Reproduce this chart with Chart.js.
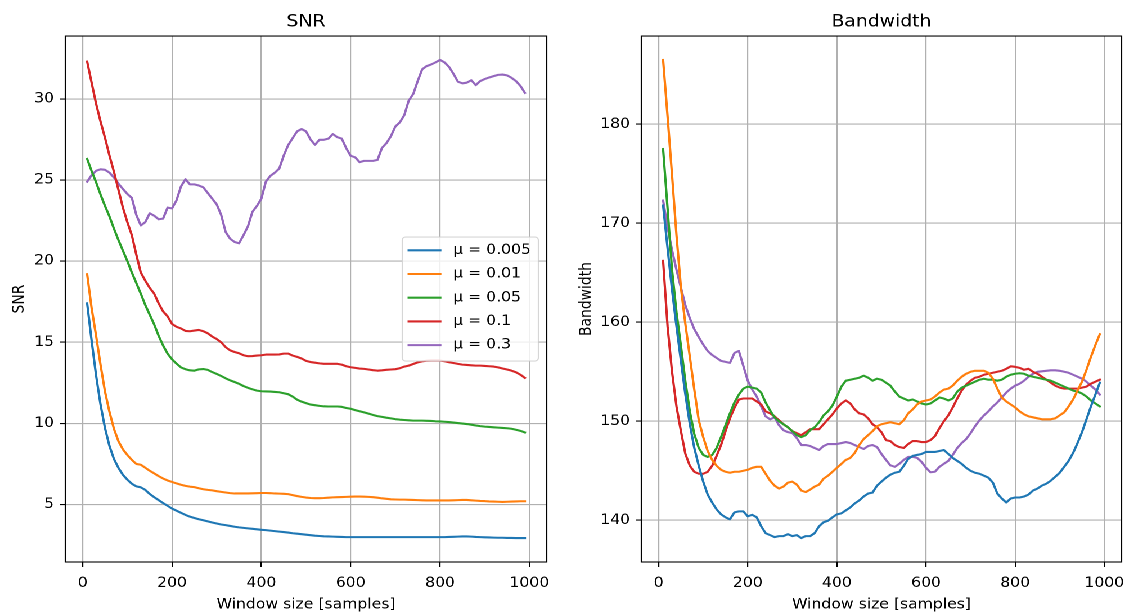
<!DOCTYPE html>
<html>
<head>
<meta charset="utf-8">
<script src="https://cdn.jsdelivr.net/npm/chart.js@4/dist/chart.umd.min.js"></script>
<style>
  html, body { margin: 0; padding: 0; background: #fff; overflow: hidden; }
  /* the figure is laid out 1000px wide and widened to the full 1125px window */
  #fig { position: absolute; left: 0; top: 0; width: 1000px; height: 614px;
         transform: scaleX(1.125); transform-origin: 0 0; }
  #fig canvas { position: absolute; top: 0; }
</style>
</head>
<body>
<div id="fig">
  <canvas id="snrChart" width="500" height="614" style="left:0"></canvas>
  <canvas id="bwChart" width="500" height="614" style="left:500px"></canvas>
</div>
<script>
// Window sizes (samples) at which SNR and bandwidth were evaluated
const windowSizes = [
  10, 20, 30, 40, 50, 60, 70, 80, 90, 100,
  110, 120, 130, 140, 150, 160, 170, 180, 190, 200,
  210, 220, 230, 240, 250, 260, 270, 280, 290, 300,
  310, 320, 330, 340, 350, 360, 370, 380, 390, 400,
  410, 420, 430, 440, 450, 460, 470, 480, 490, 500,
  510, 520, 530, 540, 550, 560, 570, 580, 590, 600,
  610, 620, 630, 640, 650, 660, 670, 680, 690, 700,
  710, 720, 730, 740, 750, 760, 770, 780, 790, 800,
  810, 820, 830, 840, 850, 860, 870, 880, 890, 900,
  910, 920, 930, 940, 950, 960, 970, 980, 990
];

const muLabels = ['μ = 0.005', 'μ = 0.01', 'μ = 0.05', 'μ = 0.1', 'μ = 0.3'];
const seriesColors = ['#1f77b4', '#ff7f0e', '#2ca02c', '#d62728', '#9467bd'];

// SNR per step size
const snrMu0005 = [
  17.4, 15.1, 12.95, 11.15, 9.7, 8.6, 7.8, 7.26, 6.83, 6.53,
  6.28, 6.12, 6.06, 5.9, 5.65, 5.45, 5.27, 5.09, 4.92, 4.75,
  4.62, 4.49, 4.36, 4.25, 4.17, 4.09, 4.03, 3.96, 3.89, 3.83,
  3.77, 3.73, 3.68, 3.63, 3.59, 3.56, 3.53, 3.5, 3.47, 3.44,
  3.42, 3.39, 3.36, 3.33, 3.3, 3.27, 3.23, 3.2, 3.17, 3.14,
  3.11, 3.08, 3.06, 3.04, 3.03, 3.02, 3.01, 3.0, 2.99, 2.99,
  2.99, 2.99, 2.99, 2.99, 2.99, 2.99, 2.99, 2.99, 2.99, 2.99,
  2.99, 2.99, 2.99, 2.99, 2.99, 2.99, 2.99, 2.99, 2.99, 2.99,
  2.99, 3.0, 3.01, 3.02, 3.03, 3.03, 3.02, 3.0, 2.99, 2.98,
  2.97, 2.96, 2.95, 2.95, 2.94, 2.94, 2.93, 2.93, 2.93
];
const snrMu001 = [
  19.2, 17.1, 15.4, 13.6, 11.95, 10.7, 9.66, 8.9, 8.4, 8.05,
  7.75, 7.5, 7.45, 7.27, 7.08, 6.92, 6.75, 6.6, 6.48, 6.39,
  6.3, 6.22, 6.15, 6.1, 6.07, 6.0, 5.94, 5.9, 5.87, 5.82,
  5.78, 5.74, 5.7, 5.68, 5.68, 5.68, 5.68, 5.69, 5.7, 5.71,
  5.71, 5.7, 5.68, 5.67, 5.66, 5.64, 5.58, 5.52, 5.47, 5.43,
  5.4, 5.39, 5.39, 5.4, 5.42, 5.44, 5.45, 5.46, 5.47, 5.48,
  5.49, 5.49, 5.48, 5.47, 5.45, 5.42, 5.38, 5.35, 5.32, 5.31,
  5.3, 5.3, 5.29, 5.28, 5.27, 5.26, 5.25, 5.25, 5.25, 5.25,
  5.25, 5.25, 5.26, 5.27, 5.28, 5.28, 5.26, 5.24, 5.22, 5.21,
  5.19, 5.18, 5.17, 5.16, 5.17, 5.18, 5.19, 5.2, 5.2
];
const snrMu005 = [
  26.3, 25.55, 24.86, 24.1, 23.4, 22.75, 22.0, 21.3, 20.65, 20.0,
  19.3, 18.65, 18.0, 17.3, 16.7, 16.1, 15.4, 14.8, 14.3, 13.95,
  13.68, 13.45, 13.34, 13.27, 13.25, 13.33, 13.35, 13.3, 13.16, 13.05,
  12.92, 12.78, 12.65, 12.55, 12.44, 12.3, 12.19, 12.1, 12.02, 11.98,
  11.97, 11.96, 11.94, 11.92, 11.86, 11.8, 11.65, 11.46, 11.34, 11.25,
  11.16, 11.12, 11.08, 11.05, 11.04, 11.04, 11.04, 11.02, 10.95, 10.9,
  10.82, 10.75, 10.68, 10.6, 10.52, 10.45, 10.4, 10.35, 10.31, 10.26,
  10.23, 10.21, 10.19, 10.17, 10.17, 10.17, 10.16, 10.15, 10.13, 10.12,
  10.1, 10.08, 10.05, 10.02, 9.99, 9.96, 9.92, 9.87, 9.83, 9.8,
  9.78, 9.76, 9.74, 9.72, 9.7, 9.67, 9.61, 9.54, 9.44
];
const snrMu01 = [
  32.3, 31.0, 29.7, 28.6, 27.6, 26.5, 25.5, 24.4, 23.3, 22.4,
  21.6, 20.4, 19.3, 18.8, 18.35, 18.0, 17.4, 16.9, 16.6, 16.13,
  15.95, 15.85, 15.7, 15.68, 15.72, 15.76, 15.68, 15.55, 15.35, 15.2,
  15.0, 14.7, 14.5, 14.4, 14.32, 14.2, 14.14, 14.15, 14.18, 14.2,
  14.24, 14.24, 14.24, 14.25, 14.3, 14.3, 14.18, 14.1, 14.0, 13.85,
  13.78, 13.74, 13.7, 13.67, 13.67, 13.67, 13.67, 13.62, 13.52, 13.46,
  13.42, 13.38, 13.36, 13.32, 13.28, 13.25, 13.27, 13.3, 13.32, 13.34,
  13.4, 13.5, 13.56, 13.66, 13.76, 13.82, 13.86, 13.87, 13.87, 13.87,
  13.83, 13.77, 13.72, 13.67, 13.62, 13.6, 13.58, 13.56, 13.56, 13.54,
  13.52, 13.5, 13.45, 13.38, 13.32, 13.25, 13.15, 13.0, 12.8
];
const snrMu03 = [
  24.9, 25.3, 25.57, 25.66, 25.63, 25.45, 25.15, 24.78, 24.45, 24.14,
  23.9, 22.85, 22.2, 22.4, 22.95, 22.8, 22.58, 22.62, 23.3, 23.25,
  23.75, 24.6, 25.05, 24.73, 24.73, 24.66, 24.55, 24.2, 23.85, 23.5,
  22.85, 21.8, 21.38, 21.18, 21.1, 21.6, 22.15, 23.04, 23.4, 23.85,
  24.9, 25.25, 25.45, 25.7, 26.5, 27.15, 27.58, 28.0, 28.14, 28.0,
  27.5, 27.17, 27.48, 27.48, 27.55, 27.83, 27.64, 27.55, 26.96, 26.49,
  26.4, 26.1, 26.18, 26.18, 26.18, 26.24, 26.98, 27.27, 27.7, 28.3,
  28.55, 29.0, 29.9, 30.3, 31.1, 31.82, 32.02, 32.12, 32.25, 32.4,
  32.25, 31.98, 31.55, 31.06, 30.96, 31.0, 31.15, 30.85, 31.1, 31.22,
  31.32, 31.4, 31.48, 31.5, 31.45, 31.3, 31.1, 30.8, 30.37
];

// Bandwidth per step size
const bwMu0005 = [
  171.8, 167.5, 163.3, 159.6, 156.1, 152.7, 149.7, 147.3, 145.5, 143.9,
  142.6, 141.8, 141.1, 140.6, 140.3, 140.1, 140.8, 140.9, 140.9, 140.4,
  140.55, 140.3, 139.4, 138.7, 138.5, 138.3, 138.4, 138.4, 138.6, 138.4,
  138.5, 138.2, 138.4, 138.4, 138.7, 139.4, 139.8, 139.95, 140.3, 140.6,
  140.7, 141.0, 141.3, 141.7, 142.0, 142.4, 142.7, 142.8, 143.5, 143.9,
  144.3, 144.6, 144.8, 144.9, 145.5, 146.2, 146.5, 146.6, 146.7, 146.9,
  146.9, 146.9, 147.0, 147.1, 146.7, 146.3, 146.0, 145.7, 145.3, 145.0,
  144.8, 144.7, 144.5, 144.3, 143.8, 142.7, 142.2, 141.8, 142.2, 142.3,
  142.3, 142.4, 142.6, 143.0, 143.2, 143.5, 143.7, 144.0, 144.4, 144.8,
  145.4, 146.0, 146.8, 147.8, 148.9, 150.2, 151.5, 152.7, 153.9
];
const bwMu001 = [
  186.5, 180.8, 174.9, 168.8, 163.5, 159.8, 156.5, 153.2, 150.1, 148.4,
  147.0, 146.1, 145.5, 145.1, 144.9, 144.8, 144.9, 144.9, 145.0, 145.1,
  145.3, 145.4, 145.4, 144.7, 144.0, 143.5, 143.2, 143.4, 143.8, 143.9,
  143.6, 143.0, 142.85, 143.1, 143.4, 143.6, 144.2, 144.5, 144.9, 145.3,
  145.7, 146.1, 146.3, 146.8, 147.6, 148.2, 148.6, 149.0, 149.5, 149.7,
  149.8, 149.9, 149.8, 149.7, 150.1, 150.8, 151.2, 151.7, 152.0, 152.1,
  152.2, 152.5, 152.9, 153.2, 153.3, 153.6, 154.1, 154.5, 154.8, 155.0,
  155.1, 155.1, 155.1, 154.9, 154.3, 153.3, 152.4, 152.0, 151.7, 151.4,
  151.0, 150.7, 150.5, 150.4, 150.3, 150.2, 150.2, 150.2, 150.3, 150.6,
  150.9, 151.5, 152.2, 153.1, 154.0, 155.2, 156.5, 157.7, 158.8
];
const bwMu005 = [
  177.5, 171.5, 165.3, 161.0, 157.6, 154.0, 151.0, 148.7, 147.3, 146.6,
  146.4, 146.6, 147.3, 148.4, 149.6, 150.8, 151.9, 152.7, 153.3, 153.5,
  153.4, 153.3, 152.9, 151.9, 151.1, 150.4, 150.0, 149.7, 149.4, 149.0,
  148.6, 148.4, 148.6, 149.1, 149.4, 149.9, 150.6, 151.0, 151.6, 152.5,
  153.5, 154.1, 154.2, 154.3, 154.4, 154.6, 154.4, 154.1, 154.3, 154.2,
  153.9, 153.6, 153.0, 152.5, 152.3, 152.1, 152.2, 152.0, 151.8, 151.7,
  151.8, 152.1, 152.4, 152.3, 152.1, 152.3, 153.0, 153.4, 153.6, 153.8,
  154.0, 154.2, 154.3, 154.2, 154.2, 154.1, 154.2, 154.5, 154.7, 154.8,
  154.85, 154.8, 154.6, 154.5, 154.4, 154.3, 154.2, 154.1, 153.9, 153.7,
  153.5, 153.3, 153.1, 153.0, 152.8, 152.5, 152.1, 151.8, 151.5
];
const bwMu01 = [
  166.2, 159.6, 155.0, 151.5, 149.0, 146.7, 145.5, 144.9, 144.7, 144.7,
  144.9, 145.5, 146.5, 147.6, 149.0, 150.3, 151.35, 152.2, 152.3, 152.3,
  152.3, 152.0, 151.7, 151.0, 150.8, 150.5, 150.1, 149.7, 149.4, 149.0,
  148.8, 148.6, 148.9, 149.2, 149.2, 149.2, 149.7, 150.2, 150.7, 151.3,
  151.8, 152.1, 151.8, 151.2, 150.8, 150.7, 150.3, 149.7, 149.4, 148.9,
  148.1, 148.0, 147.6, 147.4, 147.3, 147.7, 148.0, 148.0, 147.9, 147.9,
  148.1, 148.5, 149.3, 150.0, 150.6, 151.4, 152.3, 153.1, 153.7, 154.1,
  154.4, 154.5, 154.7, 154.8, 154.9, 155.0, 155.1, 155.3, 155.55, 155.5,
  155.4, 155.2, 155.3, 155.0, 154.8, 154.5, 154.2, 153.9, 153.6, 153.4,
  153.3, 153.3, 153.3, 153.3, 153.4, 153.5, 153.8, 154.0, 154.2
];
const bwMu03 = [
  172.3, 169.6, 167.3, 165.3, 163.5, 161.7, 160.4, 159.3, 158.5, 157.75,
  157.1, 156.7, 156.4, 156.1, 156.0, 155.9, 156.9, 157.1, 155.6, 154.1,
  153.2, 152.5, 151.5, 150.5, 150.2, 150.4, 149.6, 149.1, 148.9, 148.8,
  148.3, 147.6, 147.6, 147.5, 147.3, 147.1, 147.5, 147.7, 147.7, 147.7,
  147.8, 147.9, 147.8, 147.6, 147.4, 147.2, 147.5, 147.6, 147.4, 146.7,
  146.1, 145.55, 145.4, 145.7, 146.1, 146.4, 146.4, 146.3, 145.9, 145.3,
  144.85, 144.9, 145.4, 145.7, 146.0, 146.6, 147.3, 147.8, 148.2, 148.8,
  149.5, 150.1, 150.6, 151.0, 151.5, 151.9, 152.4, 152.9, 153.3, 153.6,
  153.8, 154.1, 154.5, 154.8, 155.0, 155.05, 155.1, 155.15, 155.15, 155.1,
  155.0, 154.9, 154.7, 154.5, 154.3, 154.0, 153.6, 153.2, 152.7
];

const xTicks = [0, 200, 400, 600, 800, 1000];
const snrTicks = [5, 10, 15, 20, 25, 30];
const bwTicks = [140, 150, 160, 170, 180];

const FONT = "'DejaVu Sans', 'Liberation Sans', sans-serif";
Chart.defaults.font.family = FONT;
Chart.defaults.color = '#000';

// axis limits with a 5% margin around the data
function paddedRange(values) {
  const lo = Math.min(...values), hi = Math.max(...values), m = (hi - lo) * 0.05;
  return [lo - m, hi + m];
}

// full box around the plotting area
const framePlugin = {
  id: 'frame',
  afterDatasetsDraw(chart) {
    const { ctx, chartArea: a } = chart;
    ctx.save();
    ctx.strokeStyle = '#000';
    ctx.lineWidth = 1.1;
    ctx.strokeRect(a.left, a.top, a.right - a.left, a.bottom - a.top);
    ctx.restore();
  }
};

// framed legend placed at the centre right of the plotting area
const boxLegendPlugin = {
  id: 'boxLegend',
  afterDraw(chart, args, opts) {
    if (!opts.display) return;
    const { ctx, chartArea: a } = chart;
    const w = 121, h = 124, r = 3;
    const x0 = a.right - 7.5 - w;
    const y0 = (a.top + a.bottom) / 2 - h / 2;
    ctx.save();
    ctx.beginPath();
    ctx.moveTo(x0 + r, y0);
    ctx.lineTo(x0 + w - r, y0);
    ctx.arcTo(x0 + w, y0, x0 + w, y0 + r, r);
    ctx.lineTo(x0 + w, y0 + h - r);
    ctx.arcTo(x0 + w, y0 + h, x0 + w - r, y0 + h, r);
    ctx.lineTo(x0 + r, y0 + h);
    ctx.arcTo(x0, y0 + h, x0, y0 + h - r, r);
    ctx.lineTo(x0, y0 + r);
    ctx.arcTo(x0, y0, x0 + r, y0, r);
    ctx.closePath();
    ctx.fillStyle = 'rgba(255,255,255,0.8)';
    ctx.fill();
    ctx.strokeStyle = 'rgba(204,204,204,0.8)';
    ctx.lineWidth = 1.1;
    ctx.stroke();

    ctx.font = '13.9px ' + FONT;
    ctx.textBaseline = 'middle';
    ctx.textAlign = 'left';
    chart.data.datasets.forEach((ds, i) => {
      const cy = y0 + 13.3 + i * 23.7;
      ctx.beginPath();
      ctx.moveTo(x0 + 5.8, cy);
      ctx.lineTo(x0 + 33.8, cy);
      ctx.strokeStyle = ds.borderColor;
      ctx.lineWidth = 2.08;
      ctx.lineCap = 'square';
      ctx.stroke();
      ctx.fillStyle = '#000';
      ctx.fillText(ds.label, x0 + 45.3, cy);
    });
    ctx.restore();
  }
};

function makeDatasets(series) {
  return series.map((vals, i) => ({
    label: muLabels[i],
    data: windowSizes.map((w, j) => ({ x: w, y: vals[j] })),
    borderColor: seriesColors[i],
    backgroundColor: seriesColors[i],
    borderWidth: 2.08,
    pointRadius: 0,
    pointHoverRadius: 0,
    tension: 0,
    fill: false,
    borderCapStyle: 'square',
    borderJoinStyle: 'round'
  }));
}

function makeChart(canvasId, cfg) {
  const allValues = cfg.series.flat();
  const xLim = paddedRange(windowSizes);
  const yLim = paddedRange(allValues);
  const gridStyle = {
    color: '#b0b0b0', lineWidth: 1.1, drawTicks: true,
    tickColor: '#000', tickLength: 5, tickWidth: 1.1
  };
  return new Chart(document.getElementById(canvasId), {
    type: 'line',
    data: { datasets: makeDatasets(cfg.series) },
    options: {
      responsive: false,
      animation: false,
      devicePixelRatio: 2,
      events: [],
      layout: { padding: { left: 0, right: cfg.rightPad, top: 0, bottom: 0 } },
      plugins: {
        legend: { display: false },
        tooltip: { enabled: false },
        title: {
          display: true, text: cfg.title, fullSize: false, color: '#000',
          font: { size: 16.7, weight: 'normal', lineHeight: 1.2 },
          padding: { top: 12, bottom: 4 }
        },
        boxLegend: { display: cfg.legend }
      },
      scales: {
        x: {
          type: 'linear', min: xLim[0], max: xLim[1],
          afterBuildTicks: s => { s.ticks = xTicks.map(v => ({ value: v })); },
          afterFit: s => { s.height = 52; s.paddingLeft = 0; s.paddingRight = 0; },
          grid: gridStyle,
          border: { display: false },
          ticks: {
            color: '#000', font: { size: 13.9 }, padding: 8,
            maxRotation: 0, autoSkip: false, callback: v => String(v)
          },
          title: {
            display: true, text: 'Window size [samples]', color: '#000',
            font: { size: 13.9, lineHeight: 1.2 }, padding: { top: 0, bottom: 0.8 }
          }
        },
        y: {
          type: 'linear', min: yLim[0], max: yLim[1],
          afterBuildTicks: s => { s.ticks = cfg.yTicks.map(v => ({ value: v })); },
          afterFit: s => { s.width = cfg.axisWidth; s.paddingTop = 0; s.paddingBottom = 0; },
          grid: gridStyle,
          border: { display: false },
          ticks: {
            color: '#000', font: { size: 13.9 }, padding: 5,
            autoSkip: false, callback: v => String(v)
          },
          title: {
            display: true, text: cfg.yLabel, color: '#000',
            font: { size: 13.9, lineHeight: 1.2 }, padding: { top: cfg.yTitleGap, bottom: 0 }
          }
        }
      }
    },
    plugins: [framePlugin, boxLegendPlugin]
  });
}

makeChart('snrChart', {
  series: [snrMu0005, snrMu001, snrMu005, snrMu01, snrMu03],
  title: 'SNR', yLabel: 'SNR', yTicks: snrTicks,
  axisWidth: 58, rightPad: 14, yTitleGap: 9, legend: true
});

makeChart('bwChart', {
  series: [bwMu0005, bwMu001, bwMu005, bwMu01, bwMu03],
  title: 'Bandwidth', yLabel: 'Bandwidth', yTicks: bwTicks,
  axisWidth: 70, rightPad: 3, yTitleGap: 13, legend: false
});
</script>
</body>
</html>
